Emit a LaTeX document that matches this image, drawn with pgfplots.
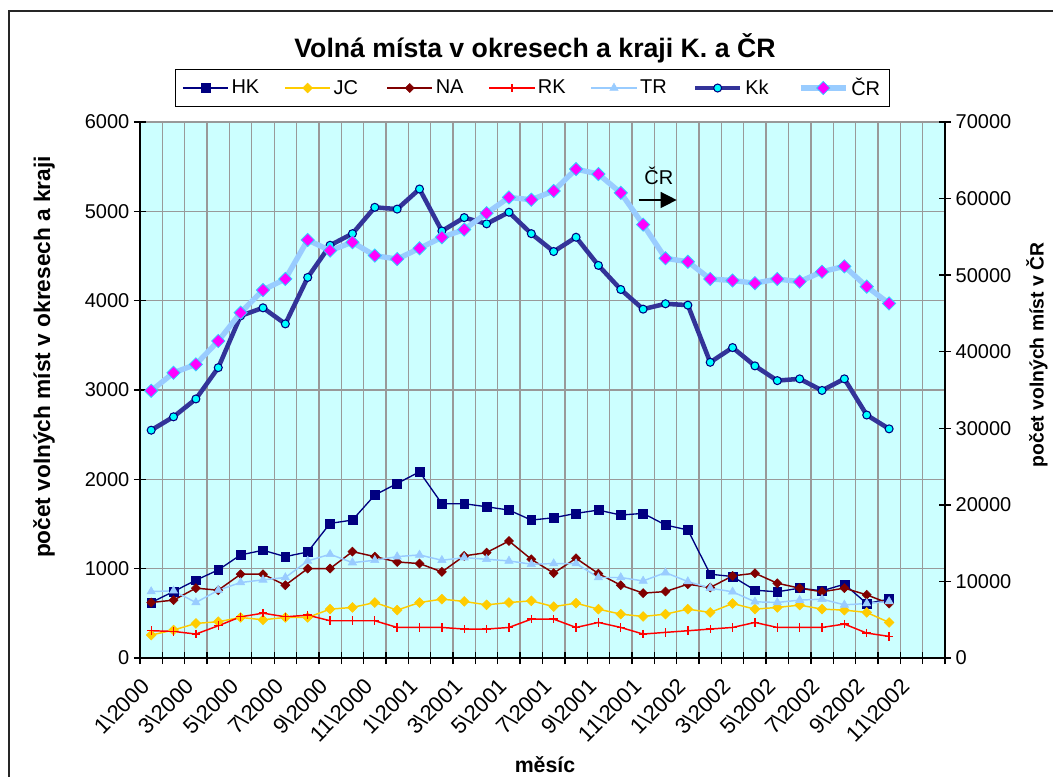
\documentclass[border=0pt]{standalone}
\usepackage{fontspec}
\setmainfont{Liberation Sans}
\usepackage{pgfplots}
\pgfplotsset{compat=1.18}
\usepackage{pgfplotstable}
\usetikzlibrary{arrows.meta}

\definecolor{hkc}{HTML}{000080}
\definecolor{jcc}{HTML}{FFCC00}
\definecolor{nac}{HTML}{800000}
\definecolor{rkc}{HTML}{FF0000}
\definecolor{trc}{HTML}{99CCFF}
\definecolor{kkc}{HTML}{333399}
\definecolor{kkfill}{HTML}{00FFFF}
\definecolor{crc}{HTML}{99CCFF}
\definecolor{crfill}{HTML}{FF00FF}
\definecolor{crdraw}{HTML}{33CCFF}
\definecolor{bgc}{HTML}{CCFFFF}
\definecolor{gridc}{HTML}{999999}

\pgfplotstableread{
idx HK JC NA RK TR Kk CR
0 621 257 621 305 744 2550 34900
1 744 313 648 298 752 2700 37250
2 871 387 782 268 621 2900 38350
3 986 406 759 361 759 3250 41400
4 1154 454 938 461 845 3830 45100
5 1206 428 938 502 875 3920 48050
6 1135 454 815 461 901 3740 49500
7 1187 454 1001 480 1087 4260 54600
8 1507 547 1001 417 1161 4620 53200
9 1544 566 1191 417 1068 4750 54300
10 1824 621 1135 417 1094 5045 52550
11 1954 536 1075 342 1135 5025 52100
12 2084 621 1057 342 1154 5250 53500
13 1727 659 964 342 1094 4780 54950
14 1727 633 1143 324 1124 4930 55950
15 1693 595 1180 324 1105 4860 58100
16 1656 621 1310 342 1087 4990 60150
17 1544 640 1105 435 1050 4750 59850
18 1570 575 950 435 1057 4550 61000
19 1619 614 1116 342 1057 4710 63850
20 1656 547 945 398 901 4395 63200
21 1600 491 815 342 901 4125 60750
22 1619 465 726 268 863 3905 56600
23 1489 491 744 287 956 3965 52200
24 1433 547 826 305 856 3950 51750
25 938 510 789 324 782 3310 49500
26 912 610 919 342 741 3475 49300
27 759 547 949 398 629 3270 48950
28 741 566 837 342 622 3105 49500
29 782 592 782 342 648 3125 49150
30 752 547 741 342 659 2995 50450
31 826 536 782 380 595 3125 51150
32 610 510 707 279 610 2720 48500
33 659 398 610 242 633 2565 46300
}\data

\newcommand{\bs}{\textbackslash}
\newcommand{\tfont}{\fontsize{15}{18}\selectfont}

\pgfplotsset{
  hkst/.style={color=hkc, line width=1pt, mark=square*, mark size=3.3pt, mark options={solid, fill=hkc, line width=0.4pt}},
  jcst/.style={color=jcc, line width=1.1pt, mark=square*, mark size=2.6pt, mark options={solid, rotate=45, fill=jcc, line width=0.4pt}},
  nast/.style={color=nac, line width=1.1pt, mark=square*, mark size=2.4pt, mark options={solid, rotate=45, fill=nac, line width=0.4pt}},
  rkst/.style={color=rkc, line width=1.1pt, mark=+, mark size=3.2pt, mark options={solid, line width=1pt}},
  trst/.style={color=trc, line width=1.1pt, mark=triangle*, mark size=3.6pt, mark options={solid, fill=trc, line width=0.4pt}},
  kkst/.style={color=kkc, line width=3.4pt, mark=*, mark size=3pt, mark options={solid, fill=kkfill, draw=hkc, line width=0.8pt}},
  crst/.style={color=crc, line width=4pt, mark=square*, mark size=3.5pt, mark options={solid, rotate=45, fill=crfill, draw=crdraw, line width=0.6pt}},
  common/.style={
    at={(105pt,88.5pt)}, anchor=south west,
    width=603.75pt, height=402pt, scale only axis,
    xmin=-0.5, xmax=35.5,
    tick align=center, major tick length=9pt,
    tick style={black, line width=1pt},
    axis line style={black, line width=1.1pt},
    tick label style={font=\tfont},
    /pgf/number format/assume math mode=true,
    /pgf/number format/set thousands separator={},
    scaled y ticks=false,
  },
}

\begin{document}
\begin{tikzpicture}
\useasboundingbox (0,0) rectangle (789.75pt,582pt);
\draw[line width=1.1pt, black!85] (6.75pt,-2pt) -- (6.75pt,573.75pt) -- (792pt,573.75pt);

\begin{axis}[common,
  axis background/.style={fill=bgc},
  axis x line*=bottom, axis y line*=left,
  ymin=0, ymax=6000, ytick={0,1000,...,6000},
  ymajorgrids, xmajorgrids,
  grid style={gridc, line width=1pt},
  xtick={-0.5,0.5,...,35.5},
  xticklabel={\mbox{}},
  extra x ticks={0,2,...,34},
  extra x tick labels={1\bs2000,3\bs2000,5\bs2000,7\bs2000,9\bs2000,11\bs2000,1\bs2001,3\bs2001,5\bs2001,7\bs2001,9\bs2001,11\bs2001,1\bs2002,3\bs2002,5\bs2002,7\bs2002,9\bs2002,11\bs2002},
  extra x tick style={grid=none, major tick length=0pt, tick label style={yshift=-16pt, xshift=-2pt, rotate=45, anchor=east, font=\fontsize{16.5}{19}\selectfont}},
]
\addplot[hkst] table[x=idx,y=HK]{\data};
\addplot[jcst] table[x=idx,y=JC]{\data};
\addplot[nast] table[x=idx,y=NA]{\data};
\addplot[rkst] table[x=idx,y=RK]{\data};
\addplot[trst] table[x=idx,y=TR]{\data};
\addplot[kkst] table[x=idx,y=Kk]{\data};
\node[font=\tfont] at (axis cs:22.7,5396) {ČR};
\draw[line width=1pt, -{Triangle[length=12pt,width=12pt]}] (axis cs:21.8,5127) -- (axis cs:23.5,5127);
\end{axis}

\begin{axis}[common,
  axis y line*=right, axis x line=none,
  ymin=0, ymax=70000, ytick={0,10000,...,70000},
  legend columns=7,
  legend style={at={(0.4876,1.0634)}, anchor=center, draw=black, line width=0.8pt, fill=white, font=\tfont,
    inner ysep=4.5pt, inner xsep=5pt,
    /tikz/every even column/.append style={column sep=0pt}},
  legend image code/.code={\draw[mark repeat=2,mark phase=2,#1] plot coordinates {(0pt,0pt) (17pt,0pt) (34pt,0pt)};},
]
\addlegendimage{hkst}\addlegendentry{\makebox[37.5pt][l]{HK}}
\addlegendimage{jcst}\addlegendentry{\makebox[37.5pt][l]{JC}}
\addlegendimage{nast}\addlegendentry{\makebox[37.5pt][l]{NA}}
\addlegendimage{rkst}\addlegendentry{\makebox[37.5pt][l]{RK}}
\addlegendimage{trst}\addlegendentry{\makebox[37.5pt][l]{TR}}
\addlegendimage{kkst}\addlegendentry{\makebox[37.5pt][l]{Kk}}
\addplot[crst] table[x=idx,y=CR]{\data};
\addlegendentry{ČR}
\end{axis}

\node[font=\fontsize{20}{24}\selectfont\bfseries] at (401.25pt,546pt) {Volná místa v okresech a kraji K. a ČR};
\node[font=\fontsize{17}{20}\selectfont\bfseries, rotate=90] at (33pt,314.25pt) {počet volných míst v okresech a kraji};
\node[font=\fontsize{14.5}{17}\selectfont\bfseries, rotate=90] at (777.75pt,315.75pt) {počet volných míst v ČR};
\node[font=\fontsize{16}{19}\selectfont\bfseries] at (408.75pt,8.25pt) {měsíc};
\end{tikzpicture}
\end{document}
